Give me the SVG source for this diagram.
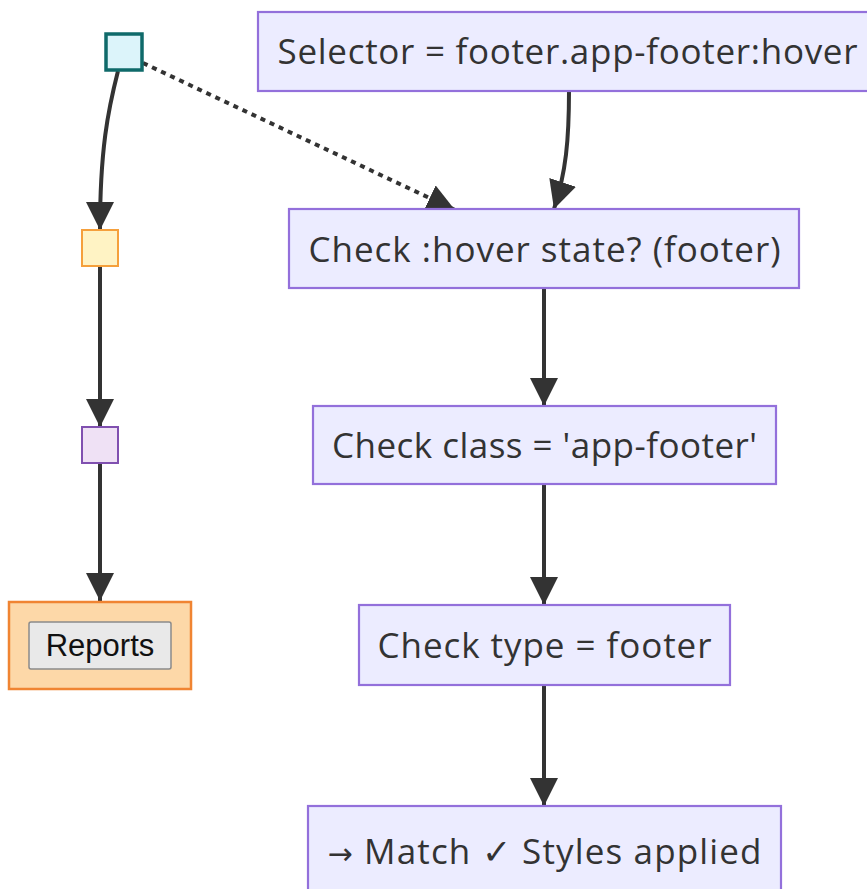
<svg xmlns="http://www.w3.org/2000/svg" width="867" height="889" viewBox="0 0 867 889">
  <style>
    .box { fill: #ececff; stroke: #9370db; stroke-width: 2.2; }
    .lbl { font-family: "Open Sans", "Noto Sans", sans-serif; font-size: 35px; fill: #333333; text-anchor: middle; }
    .edge { fill: none; stroke: #333333; stroke-width: 4; }
    .dotted { fill: none; stroke: #333333; stroke-width: 4; stroke-dasharray: 5 5; }
  </style>
  <defs>
    <marker id="arrow" viewBox="0 0 10 10" refX="10" refY="5" markerWidth="28" markerHeight="28" markerUnits="userSpaceOnUse" orient="auto">
      <path d="M0,0 L10,5 L0,10 z" fill="#333333"/>
    </marker>
  </defs>
  <g id="connectors">
    <path class="edge" d="M118,71 C108,110 100,150 100,230" marker-end="url(#arrow)"/>
    <path class="edge" d="M100,266 L100,427" marker-end="url(#arrow)"/>
    <path class="edge" d="M100,463 L100,601" marker-end="url(#arrow)"/>
    <path class="dotted" d="M143,63 L455,210" marker-end="url(#arrow)"/>
    <path class="edge" d="M569,91 C569,140 566,172 554,209" marker-end="url(#arrow)"/>
    <path class="edge" d="M544,288 L544,406" marker-end="url(#arrow)"/>
    <path class="edge" d="M544,484 L544,605" marker-end="url(#arrow)"/>
    <path class="edge" d="M544,685 L544,806" marker-end="url(#arrow)"/>
  </g>
  <g id="start">
    <rect x="106" y="34" width="36" height="36" fill="#dcf4fa" stroke="#0f6a6a" stroke-width="3.5"/>
  </g>
  <g id="stepA">
    <rect x="82" y="230" width="36" height="36" fill="#fff3c4" stroke="#f5a03c" stroke-width="2"/>
  </g>
  <g id="stepB">
    <rect x="82" y="427" width="36" height="36" fill="#efe1f5" stroke="#8050b0" stroke-width="2"/>
  </g>
  <g id="reports">
    <rect x="9" y="602" width="182" height="87" fill="#fdd8a8" stroke="#f08432" stroke-width="2.5"/>
    <rect x="29" y="622" width="142" height="47" rx="2" fill="#e9e9e9" stroke="#8a8a8a" stroke-width="1.5"/>
    <text x="100" y="656" font-family="'Liberation Sans', Arial, sans-serif" font-size="31" fill="#111111" text-anchor="middle">Reports</text>
  </g>
  <g id="selector">
    <rect class="box" x="258" y="12" width="620" height="79"/>
    <text class="lbl" x="567.5" y="64" textLength="580" lengthAdjust="spacing">Selector = footer.app-footer:hover</text>
  </g>
  <g id="hover">
    <rect class="box" x="289" y="209" width="510" height="79"/>
    <text class="lbl" x="544.5" y="262" textLength="472" lengthAdjust="spacing">Check :hover state? (footer)</text>
  </g>
  <g id="class">
    <rect class="box" x="313" y="406" width="463" height="78"/>
    <text class="lbl" x="544.5" y="458" textLength="425" lengthAdjust="spacing">Check class = 'app-footer'</text>
  </g>
  <g id="type">
    <rect class="box" x="359" y="605" width="371" height="80"/>
    <text class="lbl" x="544.5" y="658" textLength="334" lengthAdjust="spacing">Check type = footer</text>
  </g>
  <g id="match">
    <rect class="box" x="308" y="806" width="473" height="92"/>
    <text class="lbl" x="544.5" y="864" textLength="434" lengthAdjust="spacing"><tspan font-family="'DejaVu Sans', sans-serif" font-size="30">→</tspan> Match ✓ Styles applied</text>
  </g>
</svg>
